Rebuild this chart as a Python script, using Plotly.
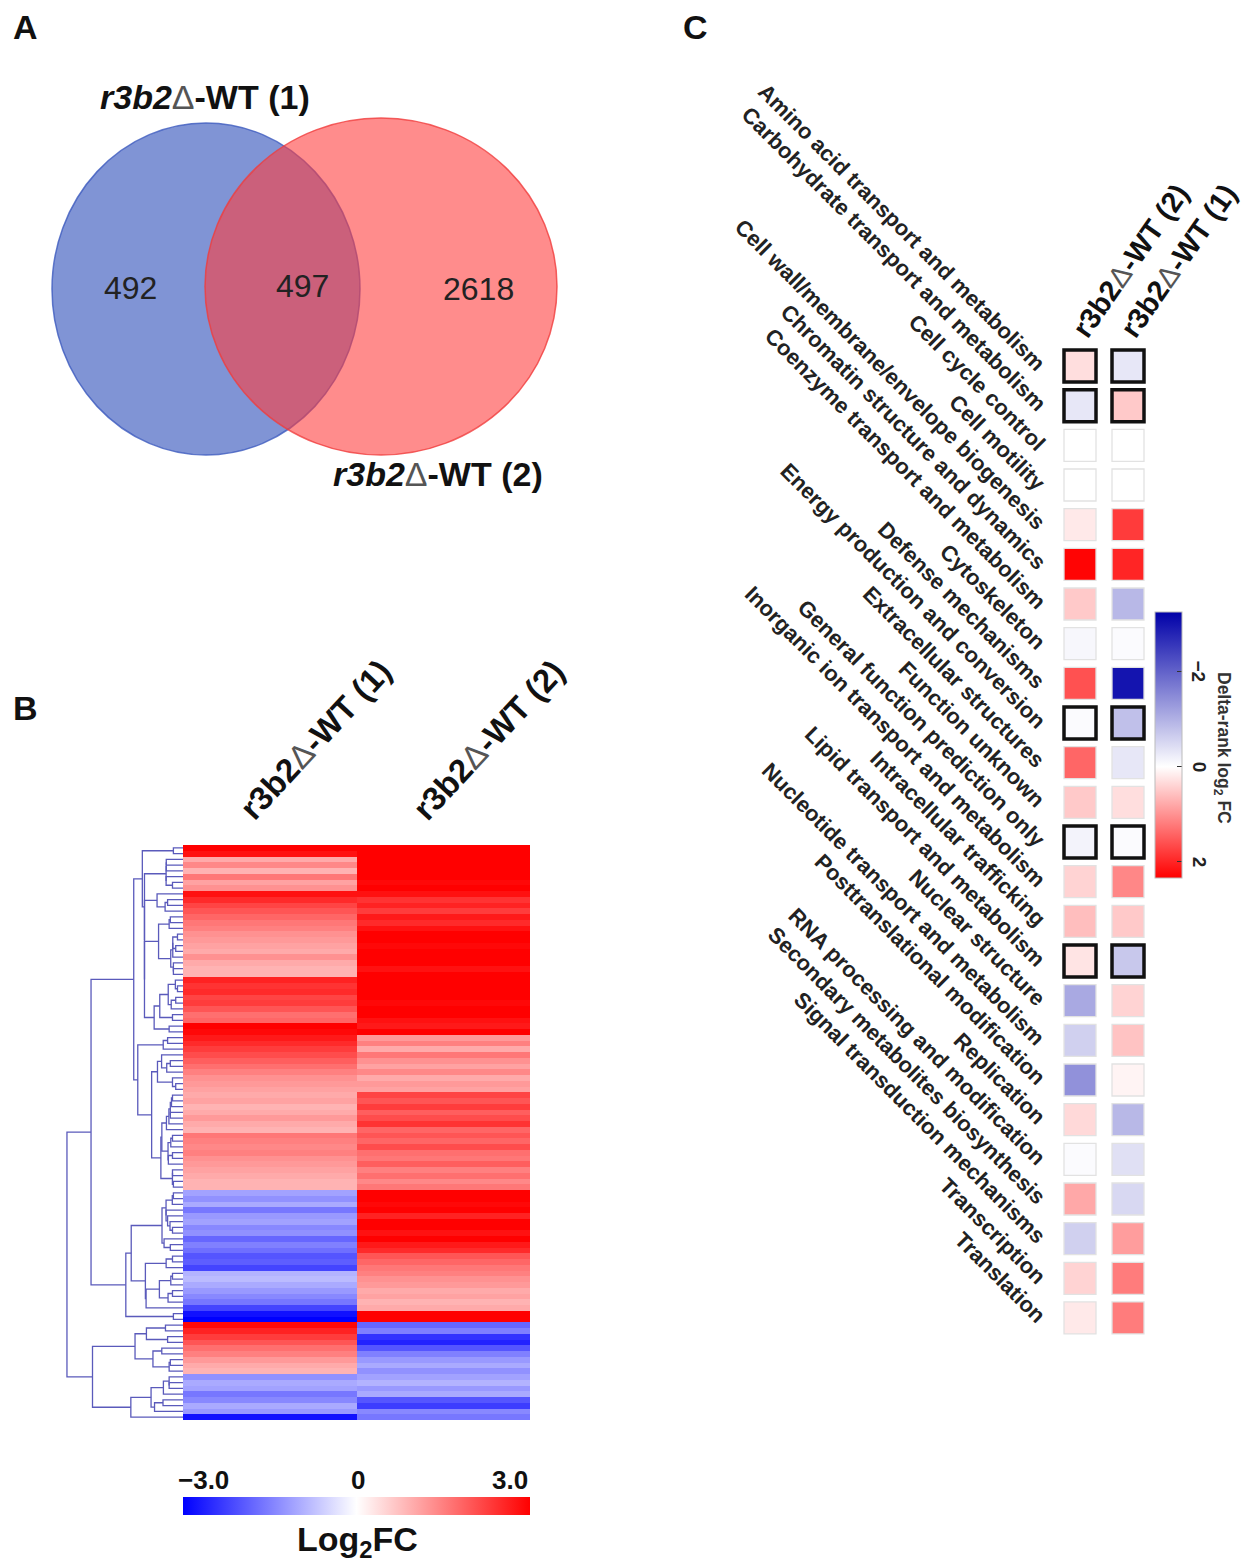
import plotly.graph_objects as go
import numpy as np

W, H = 1255, 1565
OFF = 8  # default page body margin
def px(x): return (x - OFF) / W
def py(y): return 1 - (y - OFF) / H

FONT = "Arial, Liberation Sans, sans-serif"
DELTA = "<span style='color:#555'>Δ</span>"

# ---------------- Panel A : Venn ----------------
venn_labels = [f"<b><i>r3b2</i></b>{DELTA}<b>-WT (1)</b>", f"<b><i>r3b2</i></b>{DELTA}<b>-WT (2)</b>"]
venn_counts = [492, 497, 2618]   # only (1), shared, only (2)

# ---------------- Panel B : heatmap (rows top->bottom) ----------------
hm_columns = [f"<b>r3b2</b>{DELTA}<b>-WT (1)</b>", f"<b>r3b2</b>{DELTA}<b>-WT (2)</b>"]
log2fc_wt1 = [
    3.0, 2.8,
    1.0, 1.4, 0.9, 1.6, 1.1, 1.3,
    2.8, 2.5, 2.2, 2.0, 1.8, 1.6, 1.5, 1.3, 1.2, 1.1, 1.0, 1.3, 1.0, 0.9, 0.9,
    2.6, 2.4, 2.5, 2.2, 2.3, 2.0, 1.7, 1.8,
    3.0, 2.9, 2.7, 2.5, 2.3, 2.1, 1.9, 1.7, 1.5, 1.3, 1.2, 1.1,
    1.0, 1.1, 0.9, 1.0, 1.2, 1.0, 0.9,
    1.6, 1.5, 1.4, 1.5, 1.3, 1.2, 1.1, 1.0, 0.9, 0.9,
    -1.1, -1.3, -1.0, -1.6, -1.2, -1.1, -1.4, -1.3, -1.8, -1.5, -1.7, -2.0,
    -1.9, -2.2, -0.9, -0.8, -1.0, -1.2, -1.4, -1.6, -2.2, -2.8, -3.0,
    2.9, 2.6, 2.3, 2.0, 1.7, 1.5, 1.2, 1.0, 0.9,
    -1.3, -1.0, -1.1, -1.6, -1.4, -1.0, -1.2, -2.8,
]
log2fc_wt2 = [
    3.0, 3.0, 3.0, 3.0, 3.0, 3.0, 2.9, 3.0,
    2.8, 2.4, 2.6, 2.3, 2.7, 2.5, 2.8, 3.0, 3.0, 2.9, 3.0, 3.0, 3.0, 2.8, 3.0,
    3.0, 3.0, 3.0, 3.0, 2.9, 3.0, 3.0, 2.8,
    2.7, 3.0, 1.2, 1.5, 1.0, 1.6, 1.3, 1.1, 1.4, 1.0, 1.2, 1.1,
    2.2, 2.0, 2.3, 1.9, 2.1, 2.4, 1.8,
    2.0, 1.8, 2.1, 1.7, 1.6, 1.9, 1.5, 1.7, 1.4, 1.6,
    3.0, 3.0, 2.9, 3.0, 2.6, 3.0, 3.0, 2.8, 3.0, 2.7, 2.5,
    2.0, 1.8, 1.6, 1.5, 1.3, 1.2, 1.0, 1.1, 0.9, 1.0,
    3.0, 3.0,
    -1.8, -1.5, -2.4, -2.6, -2.0, -1.5, -1.2, -1.0, -1.3, -1.1, -0.9, -1.2,
    -1.0, -2.0, -2.3, -1.4, -1.6,
]
legend_b_ticks = [-3.0, 0, 3.0]
legend_b_ticktext = ["−3.0", "0", "3.0"]

# ---------------- Panel C : COG delta-rank heatmap ----------------
cog_categories = [
    "Amino acid transport and metabolism",
    "Carbohydrate transport and metabolism",
    "Cell cycle control",
    "Cell motility",
    "Cell wall/membrane/envelope biogenesis",
    "Chromatin structure and dynamics",
    "Coenzyme transport and metabolism",
    "Cytoskeleton",
    "Defense mechanisms",
    "Energy production and conversion",
    "Extracellular structures",
    "Function unknown",
    "General function prediction only",
    "Inorganic ion transport and metabolism",
    "Intracellular trafficking",
    "Lipid transport and metabolism",
    "Nuclear structure",
    "Nucleotide transport and metabolism",
    "Posttranslational modification",
    "Replication",
    "RNA processing and modification",
    "Secondary metabolites biosynthesis",
    "Signal transduction mechanisms",
    "Transcription",
    "Translation",
]
c_columns = [f"<b>r3b2</b>{DELTA}<b>-WT (2)</b>", f"<b>r3b2</b>{DELTA}<b>-WT (1)</b>"]
delta_wt2 = [0.3, -0.3, 0.0, 0.0, 0.2, 2.3, 0.5, -0.1, 1.6, -0.05, 1.4, 0.5, -0.15,
             0.4, 0.6, 0.25, -1.1, -0.6, -1.4, 0.35, -0.05, 0.8, -0.6, 0.4, 0.2]
delta_wt1 = [-0.3, 0.5, 0.0, 0.0, 1.8, 2.0, -0.9, -0.05, -3.0, -0.8, -0.3, 0.3, -0.05,
             1.1, 0.5, -0.7, 0.4, 0.55, 0.1, -0.9, -0.4, -0.5, 0.9, 1.2, 1.2]
significant = [1, 1, 0, 0, 0, 0, 0, 0, 0, 1, 0, 0, 1, 0, 0, 1, 0, 0, 0, 0, 0, 0, 0, 0, 0]
legend_c_ticks = [-2, 0, 2]
legend_c_range = [-3.25, 2.34]   # top -> bottom of the colour bar

fig = go.Figure()

# ---------- Panel B heatmap ----------
n_rows = len(log2fc_wt1)
zmat = [[a, b] for a, b in zip(log2fc_wt1, log2fc_wt2)]
fig.add_trace(go.Heatmap(
    z=zmat, x=[0, 1], y=list(range(n_rows)),
    colorscale=[[0, "#0000ff"], [0.5, "#ffffff"], [1, "#ff0000"]],
    zmin=-3, zmax=3, xaxis="x", yaxis="y", hoverinfo="skip",
    colorbar=dict(orientation="h", x=px(356.5), xanchor="center", y=py(1506), yanchor="middle",
                  lenmode="pixels", len=347, thickness=18, xpad=0, ypad=0,
                  showticklabels=False, ticks="", outlinewidth=0),
))

# ---------- Dendrogram (adjacent-constrained average linkage on the heatmap rows) ----------
data = np.array(zmat, dtype=float)
D = np.sqrt(((data[:, None, :] - data[None, :, :]) ** 2).sum(-1))
clusters = [dict(m=[i], y=float(i), h=0.0) for i in range(n_rows)]
lx, ly = [], []
while len(clusters) > 1:
    best = None
    for k in range(len(clusters) - 1):
        a, b = clusters[k], clusters[k + 1]
        d = D[np.ix_(a["m"], b["m"])].mean()
        if best is None or d < best[0]:
            best = (d, k)
    d, k = best
    a, b = clusters[k], clusters[k + 1]
    h = max(d ** 0.8, a["h"], b["h"])
    lx += [a["h"], h, h, b["h"], None]
    ly += [a["y"], a["y"], b["y"], b["y"], None]
    clusters[k:k + 2] = [dict(m=a["m"] + b["m"], y=(a["y"] + b["y"]) / 2, h=h)]
hmax = clusters[0]["h"]
fig.add_trace(go.Scatter(x=lx, y=ly, mode="lines", line=dict(color="#5a5abb", width=1.3),
                         xaxis="x2", yaxis="y2", hoverinfo="skip", showlegend=False))

# ---------- Panel C squares ----------
ncat = len(cog_categories)
vals = delta_wt2 + delta_wt1
sig = significant + significant
lo, hi = legend_c_range
t0 = hi / (hi - lo)
fig.add_trace(go.Scatter(
    x=[0] * ncat + [1] * ncat, y=list(range(ncat)) * 2, mode="markers",
    xaxis="x3", yaxis="y3", showlegend=False, hoverinfo="skip",
    marker=dict(symbol="square", size=32,
                color=[-v for v in vals], cmin=-hi, cmax=-lo,
                colorscale=[[0, "#ff0000"], [t0, "#ffffff"], [1, "#0000a8"]],
                line=dict(width=[3.5 if s else 1.3 for s in sig],
                          color=["#111111" if s else "#e2e2e2" for s in sig]),
                colorbar=dict(x=px(1155), xanchor="left", y=py(745), yanchor="middle",
                              lenmode="pixels", len=266, thickness=27, xpad=0, ypad=0,
                              tickvals=[-t for t in legend_c_ticks], showticklabels=False,
                              ticks="inside", ticklen=5, tickcolor="#333",
                              outlinewidth=1, outlinecolor="#bbbbbb")),
))

def pann(text, x, y, size, xa="center", ya="middle", **kw):
    return dict(text=text, x=px(x), y=py(y), xref="paper", yref="paper", xanchor=xa, yanchor=ya,
                showarrow=False, font=dict(size=size, color=kw.pop("color", "#111")), **kw)

ann = []
for t, x, y in [("A", 25, 27), ("B", 25, 708), ("C", 695, 27)]:
    ann.append(pann(f"<b>{t}</b>", x, y, 34))
ann.append(pann(venn_labels[0], 205, 97, 34))
ann.append(pann(venn_labels[1], 438, 474, 34))
for c, x, y in zip(venn_counts, [130, 302, 478], [288, 286, 289]):
    ann.append(pann(str(c), x, y, 32, color="#222"))
# Panel B column labels
for i, lab in enumerate(hm_columns):
    ann.append(dict(text=lab, x=i, xref="x", xshift=-40, y=py(830), yref="paper",
                    xanchor="left", yanchor="bottom", textangle=-47, showarrow=False,
                    font=dict(size=33, color="#111")))
# Panel B colour legend labels (bar spans x 183..530 for -3..3)
for v, t in zip(legend_b_ticks, legend_b_ticktext):
    xa = "left" if v < 0 else ("right" if v > 0 else "center")
    xpos = 176 if v < 0 else (530 if v > 0 else 358)
    ann.append(pann(f"<b>{t}</b>", xpos, 1480, 26, xa=xa))
ann.append(pann("<b>Log<sub>2</sub>FC</b>", 358, 1541, 34))
# Panel C labels
for i, lab in enumerate(cog_categories):
    ann.append(dict(text=f"<b>{lab}</b>", x=px(1053), xref="paper", y=i, yref="y3", yshift=-13,
                    xanchor="right", yanchor="bottom", textangle=45, showarrow=False,
                    font=dict(size=22, color="#222")))
for i, lab in enumerate(c_columns):
    ann.append(dict(text=lab, x=i, xref="x3", xshift=-17, y=py(346), yref="paper",
                    xanchor="left", yanchor="bottom", textangle=-55, showarrow=False,
                    font=dict(size=29, color="#111")))
# Panel C colour bar tick labels (bar spans y 612..878 for -3.25..2.34)
for v in legend_c_ticks:
    ypos = 612 + (v - lo) / (hi - lo) * 266
    ann.append(pann(f"<b>{'−' if v < 0 else ''}{abs(v)}</b>", 1199, ypos, 19, textangle=90, color="#222"))
ann.append(pann("<b>Delta-rank log<sub>2</sub> FC</b>", 1222, 748, 17.5, textangle=90, color="#333"))

shapes = [
    dict(type="circle", xref="paper", yref="paper", x0=px(52), x1=px(360), y0=py(455), y1=py(123),
         fillcolor="rgba(60,90,190,0.65)", line=dict(color="rgba(60,90,190,0.8)", width=1.5), layer="below"),
    dict(type="circle", xref="paper", yref="paper", x0=px(205), x1=px(557), y0=py(455), y1=py(118),
         fillcolor="rgba(255,60,60,0.59)", line=dict(color="rgba(240,60,60,0.8)", width=1.5), layer="below"),
]

noax = dict(visible=False, showgrid=False, zeroline=False)
fig.update_layout(
    width=W, height=H, margin=dict(l=0, r=0, t=0, b=0),
    paper_bgcolor="white", plot_bgcolor="rgba(0,0,0,0)",
    font=dict(family=FONT), showlegend=False,
    annotations=ann, shapes=shapes,
    xaxis=dict(domain=[px(183), px(530)], range=[-0.5, 1.5], **noax),
    yaxis=dict(domain=[py(1420), py(845)], range=[n_rows - 0.5, -0.5], **noax),
    xaxis2=dict(domain=[px(60), px(183)], range=[hmax * 1.06, 0], anchor="y2", **noax),
    yaxis2=dict(domain=[py(1420), py(845)], range=[n_rows - 0.5, -0.5], anchor="x2", **noax),
    xaxis3=dict(domain=[px(1056), px(1152)], range=[-0.5, 1.5], anchor="y3", **noax),
    yaxis3=dict(domain=[py(1337.8), py(346.2)], range=[ncat - 0.5, -0.5], anchor="x3", **noax),
)
fig.write_html("out.html")
